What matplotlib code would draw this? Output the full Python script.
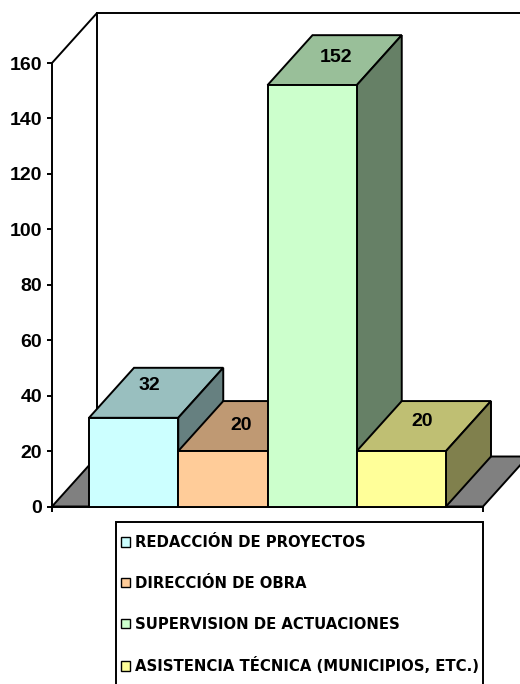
import matplotlib
matplotlib.use("Agg")
import matplotlib.pyplot as plt
from matplotlib.patches import Polygon, Patch, Rectangle

categories = ["REDACCIÓN DE PROYECTOS", "DIRECCIÓN DE OBRA",
              "SUPERVISION DE ACTUACIONES", "ASISTENCIA TÉCNICA (MUNICIPIOS, ETC.)"]
values = [32, 20, 152, 20]
front_colors = ["#CCFFFF", "#FFCC99", "#CCFFCC", "#FFFF99"]
top_colors = ["#99BFBF", "#BF9973", "#99BF99", "#BFBF73"]
side_colors = ["#668080", "#80664D", "#668066", "#80804D"]
yticks = list(range(0, 161, 20))
label_shift_x = [-0.075, -0.045, 0.01, -0.022]
label_shift_y = [2.8, 0.3, 1.1, 1.8]

W, H = 520, 684
LW = 1.4
plt.rcParams["font.family"] = ["Liberation Sans", "DejaVu Sans"]
fig = plt.figure(figsize=(W / 100, H / 100), dpi=100)
left, right, y0, y160 = 52, 483, 506.5, 63
ax = fig.add_axes([left / W, 1 - y0 / H, (right - left) / W, (y0 - y160) / H])
ax.set_xlim(-0.9146, 3.9146)
ax.set_ylim(0, 160)
ax.patch.set_visible(False)
DX = 45 / (431 / 4.8292)
DY = 50 / (443.5 / 160)
xa, xb = ax.get_xlim()

# floor and back wall
ax.add_patch(Polygon([(xa, 0), (xb, 0), (xb + DX, DY), (xa + DX, DY)], closed=True,
                     fc="#808080", ec="black", lw=LW, clip_on=False, zorder=1))
ax.plot([xa, xa + DX, xb + DX], [160, 160 + DY, 160 + DY], color="black", lw=LW,
        clip_on=False, zorder=1)
ax.plot([xa + DX, xa + DX], [DY, 160 + DY], color="black", lw=LW, clip_on=False, zorder=1)

# boxes, drawn left to right
for i, v in enumerate(values):
    z = 2 + i
    x0, x1 = i - 0.5, i + 0.5
    ax.bar(i, v, width=1, color=front_colors[i], edgecolor="black", linewidth=LW,
           zorder=z + 0.2, clip_on=False)
    ax.add_patch(Polygon([(x0, v), (x1, v), (x1 + DX, v + DY), (x0 + DX, v + DY)], closed=True,
                         fc=top_colors[i], ec="black", lw=LW, clip_on=False, zorder=z))
    ax.add_patch(Polygon([(x1, 0), (x1 + DX, DY), (x1 + DX, v + DY), (x1, v)], closed=True,
                         fc=side_colors[i], ec="black", lw=LW, clip_on=False, zorder=z))
    ax.text(i + DX / 2 + label_shift_x[i], v + DY / 2 + label_shift_y[i],
            str(v), ha="center", va="center", fontsize=14, fontweight="bold", zorder=10)

for s in ("top", "right"):
    ax.spines[s].set_visible(False)
for s in ("left", "bottom"):
    ax.spines[s].set_linewidth(LW)
    ax.spines[s].set_zorder(1.5)
ax.set_yticks(yticks)
ax.set_xticks([xa, xb])
ax.set_xticklabels([])
ax.tick_params(axis="both", length=3.6, width=LW)
ax.tick_params(axis="y", labelsize=14, pad=3.5)
for t in ax.get_yticklabels():
    t.set_fontweight("bold")

# legend frame runs past the bottom of the figure
ax.add_patch(Rectangle((116 / W, 1 - 700 / H), (483 - 116) / W, (700 - 522) / H,
                       transform=fig.transFigure, fc="white", ec="black", lw=LW,
                       clip_on=False, zorder=15))
handles = [Patch(fc=c, ec="black", lw=1.0) for c in front_colors]
leg = ax.legend(handles, categories, loc="upper left",
                bbox_to_anchor=(121 / W, 1 - 535 / H), bbox_transform=fig.transFigure,
                frameon=False,
                handlelength=0.62, handleheight=0.62, handletextpad=0.3,
                borderaxespad=0, borderpad=0, labelspacing=1.73,
                prop={"family": "DejaVu Sans", "weight": "bold", "size": 10.75})
leg.set_zorder(20)
fig.savefig("out.png", dpi=100)
